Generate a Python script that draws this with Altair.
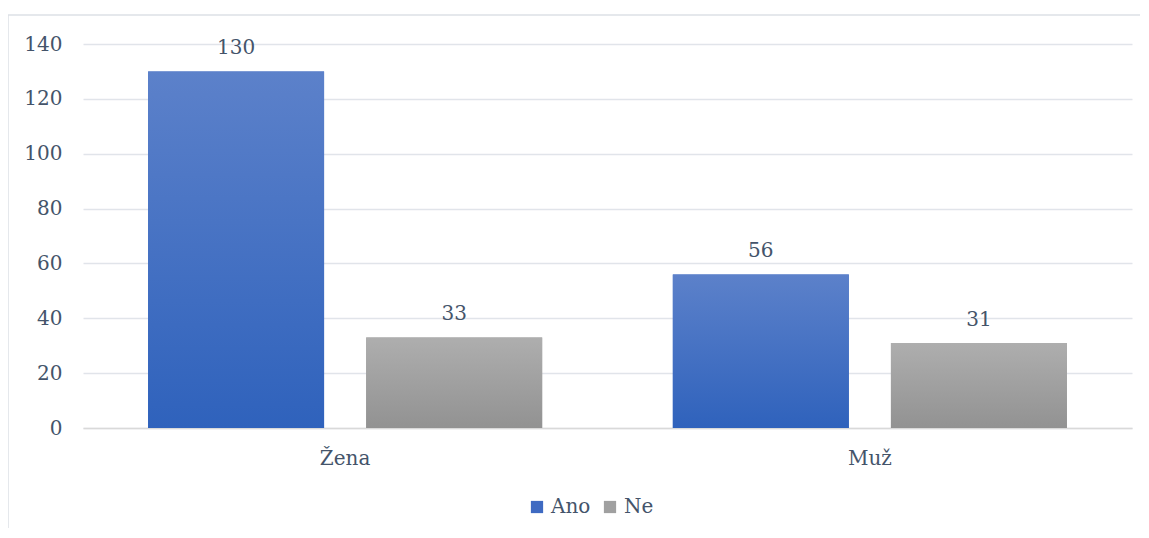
import altair as alt
import pandas as pd

categories = ["Žena", "Muž"]
series = ["Ano", "Ne"]
ano_values = [130, 56]
ne_values = [33, 31]

rows = []
for i, c in enumerate(categories):
    rows.append({"cat": c, "series": "Ano", "value": ano_values[i]})
    rows.append({"cat": c, "series": "Ne", "value": ne_values[i]})
df = pd.DataFrame(rows)

FONT = "DejaVu Serif"
TXT = "#44546A"

x_enc = alt.X("cat:N", sort=categories, title=None,
              scale=alt.Scale(domain=categories, paddingInner=0.249, paddingOuter=0.124),
              axis=alt.Axis(labelAngle=0, labelFont=FONT, labelFontSize=20, labelColor=TXT,
                            labelPadding=20, ticks=False, domainColor="#D9D9D9", domainWidth=1.5,
                            grid=False))
xo_enc = alt.XOffset("series:N", sort=series,
                     scale=alt.Scale(domain=series, paddingInner=0.193, paddingOuter=0))
y_enc = alt.Y("value:Q", title=None,
              scale=alt.Scale(domain=[0, 140], nice=False),
              axis=alt.Axis(values=[0, 20, 40, 60, 80, 100, 120, 140], labelFont=FONT,
                            labelFontSize=20, labelColor=TXT, labelPadding=21, ticks=False,
                            domain=False, gridColor="#E1E4EA", gridWidth=1.5))

base = alt.Chart(df).encode(x=x_enc, xOffset=xo_enc, y=y_enc)

legend_bars = base.mark_bar().encode(
    color=alt.Color("series:N", sort=series,
                    scale=alt.Scale(domain=series, range=["#3E6AC2", "#A0A0A0"]),
                    legend=alt.Legend(title=None, orient="none", direction="horizontal",
                                      legendX=444, legendY=453, symbolType="square",
                                      symbolSize=150, symbolStrokeWidth=0,
                                      labelFont=FONT, labelFontSize=20, labelColor=TXT,
                                      columnPadding=9, labelOffset=4))
)

grad_ano = alt.Gradient(gradient="linear", x1=0, y1=0, x2=0, y2=1,
                        stops=[alt.GradientStop(offset=0, color="#5C81CA"),
                               alt.GradientStop(offset=1, color="#2F62BC")])
grad_ne = alt.Gradient(gradient="linear", x1=0, y1=0, x2=0, y2=1,
                       stops=[alt.GradientStop(offset=0, color="#AEAEAE"),
                              alt.GradientStop(offset=1, color="#929292")])

ano_bars = base.mark_bar(color=grad_ano).transform_filter(alt.datum.series == "Ano")
ne_bars = base.mark_bar(color=grad_ne).transform_filter(alt.datum.series == "Ne")

labels = base.mark_text(baseline="bottom", dy=-13, font=FONT, fontSize=20, color=TXT).encode(
    text=alt.Text("value:Q"))

border = alt.Chart(alt.Data(values=[{"a": 1}])).mark_rect(
    fill="transparent", stroke="#DDE1E6", strokeWidth=1.5, clip=False).encode(
    x=alt.value(-75), x2=alt.value(1090), y=alt.value(-29), y2=alt.value(560))

chart = alt.layer(border, legend_bars, ano_bars, ne_bars, labels).properties(
    width=1049, height=384,
    padding={"left": 75, "top": 36, "right": 8, "bottom": 100},
    autosize=alt.AutoSizeParams(type="none"),
).configure_view(stroke=None)

chart.save("out.html", embed_options={"renderer": "svg", "actions": False})
